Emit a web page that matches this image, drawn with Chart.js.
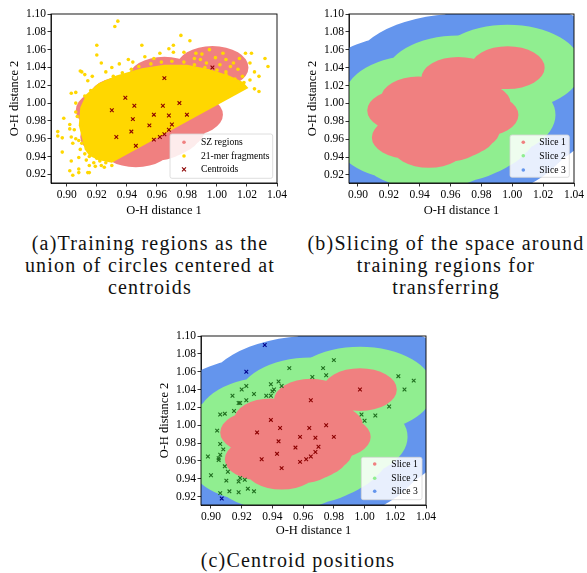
<!DOCTYPE html>
<html><head><meta charset="utf-8">
<script src="https://cdn.jsdelivr.net/npm/chart.js@4.4.1/dist/chart.umd.min.js"></script>
<style>
html,body{margin:0;padding:0;background:#fff}
body{position:relative;width:587px;height:573px;overflow:hidden}
canvas{position:absolute;display:block}
.cap{position:absolute;font-family:'Liberation Serif','Times New Roman',serif;font-size:20px;line-height:22px;letter-spacing:1.2px;color:#111;text-align:center;white-space:nowrap}
</style></head><body>
<canvas id="ca" width="292" height="218" style="left:0;top:0"></canvas>
<canvas id="cb" width="292" height="218" style="left:295px;top:0"></canvas>
<canvas id="cc" width="295" height="218" style="left:145px;top:320px"></canvas>
<div class="cap" style="left:0;width:300px;top:232px">(a)Training regions as the<br>union of circles centered at<br>centroids</div>
<div class="cap" style="left:296px;width:300px;top:232px">(b)Slicing of the space around<br>training regions for<br>transferring</div>
<div class="cap" style="left:148px;width:300px;top:549px">(c)Centroid positions</div>
<script>
const xTicks = [0.90,0.92,0.94,0.96,0.98,1.00,1.02,1.04];
const yTicks = [0.92,0.94,0.96,0.98,1.00,1.02,1.04,1.06,1.08,1.10];
const xTitle = 'O-H distance 1';
const yTitle = 'O-H distance 2';
const legendA = ['SZ regions','21-mer fragments','Centroids'];
const sliceLabels = ['Slice 1','Slice 2','Slice 3'];

// training centroids (slice 1)
const centroids = [
[0.997,1.040],[0.965,1.028],[0.939,1.006],[0.930,0.992],[0.945,0.997],
[0.964,0.997],[0.975,1.000],[0.944,0.982],[0.958,0.987],[0.968,0.986],
[0.980,0.987],[0.955,0.975],[0.970,0.976],[0.943,0.968],[0.968,0.970],
[0.965,0.965],[0.962,0.962],[0.933,0.962],[0.958,0.959],[0.946,0.952]
];
// centroids falling in slice 2 and slice 3
const slice2Centroids = [
[0.951,1.064],[0.980,1.073],[0.973,1.064],[0.975,1.056],[0.966,1.054],
[0.944,1.049],[0.939,1.046],[0.946,1.044],[0.941,1.040],[0.940,1.038],
[0.936,1.033],[0.939,1.033],[0.928,1.035],[0.923,1.044],[0.920,1.040],
[0.914,1.033],[0.923,1.028],[0.919,1.025],[0.918,1.025],[0.915,1.016],
[0.909,1.013],[0.906,1.012],[0.904,0.994],[0.906,0.979],[0.908,0.973],
[0.906,0.967],[0.905,0.963],[0.905,0.961],[0.898,0.965],[0.909,0.954],
[0.911,0.948],[0.900,0.944],[0.910,0.938],[0.919,0.941],[0.918,0.937],
[0.922,0.939],[0.924,0.929],[0.928,0.926],[0.918,0.925],[0.912,0.926],
[0.906,0.924],[1.022,1.055],[1.032,1.050],[1.026,1.040],[1.016,1.021],
[0.998,1.012],[1.007,1.011],[1.000,1.005]
];
const slice3Centroids = [[0.935,1.090],[0.923,1.060],[0.907,0.918]];
// slice radii around the centroids (data units)
const sliceRadii = [0.024,0.048,0.072];

// 21-mer fragments: dense core outline and scattered fragments
const fragmentCore = [
[0.912,0.948],[0.908,0.975],[0.909,0.995],[0.913,1.010],[0.921,1.022],[0.933,1.031],
[0.950,1.039],[0.965,1.043],[0.980,1.043],[0.995,1.038],[1.008,1.031],[1.017,1.024],
[1.021,1.017],[0.930,0.933],[0.921,0.936],[0.915,0.941]
];
const fragmentPoints = [
[0.934,1.092],[0.932,1.086],[0.920,1.065],[0.920,1.054],[0.923,1.045],[0.910,1.035],
[0.912,1.032],[0.917,1.030],[0.914,1.025],[0.906,1.012],[0.903,1.011],[0.898,0.983],
[0.897,0.961],[0.894,0.968],[0.894,0.963],[0.897,0.945],[0.902,0.976],[0.902,0.971],
[0.903,0.962],[0.903,0.935],[0.902,0.924],[0.904,0.919],[0.908,0.926],[0.908,0.922],
[0.914,0.922],[0.915,0.922],[0.919,0.929],[0.923,0.930],[0.922,0.935],[0.918,0.933],
[0.912,0.943],[0.908,0.939],[0.910,0.955],[0.905,0.970],[0.904,0.955],[0.909,1.036],
[0.950,1.065],[0.941,1.049],[0.926,1.035],[0.976,1.076],[0.982,1.070],[0.971,1.065],
[0.971,1.057],[0.978,1.057],[1.006,1.049],[1.019,1.056],[1.023,1.056],[1.032,1.050],
[1.034,1.041],[1.022,1.045],[1.022,1.026],[1.017,1.030],[1.014,1.038],[1.009,1.041],
[1.011,1.045],[1.006,1.035],[1.002,1.043],[0.999,1.051],[0.993,1.045],[0.989,1.049],
[0.986,1.056],[1.018,1.019],[1.014,1.015],[1.009,1.011],
[0.912,0.985],[0.906,0.990],[0.913,1.003],[0.910,0.975],[0.911,0.965],[0.909,0.948],
[0.915,0.940],[0.920,0.938],[0.926,0.933],[0.912,1.008],[0.916,1.014],[0.921,1.019],
[0.926,1.024],[0.931,1.030],[0.937,1.034],[0.943,1.038],[0.948,1.041],[0.956,1.044],
[0.963,1.046],[0.970,1.047],[0.978,1.046],[0.985,1.043],[0.992,1.040],[1.000,1.037],
[1.006,1.032],[1.012,1.027],[1.018,1.023],[1.025,1.016],[1.028,1.013],
[0.958,1.050],[0.962,1.056],[0.968,1.061],[0.952,1.052],[0.944,1.046],[0.930,1.040],
[0.935,1.044],[0.990,1.055],[0.995,1.060],[1.004,1.056],[0.985,1.050],[1.015,1.050],
[1.025,1.035],[1.028,1.030],
[0.906,1.000],[0.907,0.985],[0.906,0.960],[0.908,0.958],[0.915,0.930],[0.925,0.928],
[0.930,0.930],[0.913,0.936]
];

const COL = {salmon:'#F08080', green:'#90EE90', blue:'#6495ED', gold:'#FFD700',
             dred:'#8B0000', dgreen:'#1f6e1f', dblue:'#00008B'};
const SERIF = "'Liberation Serif', 'Times New Roman', serif";
const toXY = a => a.map(([x,y]) => ({x,y}));

const regionPlugin = {
  id:'regions',
  beforeDatasetsDraw(chart, args, o){
    const {ctx, chartArea:a, scales:{x,y}} = chart;
    ctx.save();
    ctx.beginPath(); ctx.rect(a.left, a.top, a.right-a.left, a.bottom-a.top); ctx.clip();
    for (const layer of o.layers){
      ctx.fillStyle = layer.color;
      ctx.beginPath();
      for (const [cx,cy] of o.centers){
        const px = x.getPixelForValue(cx), py = y.getPixelForValue(cy);
        const rx = Math.abs(x.getPixelForValue(cx+layer.r)-px);
        const ry = Math.abs(y.getPixelForValue(cy+layer.r)-py);
        ctx.moveTo(px+rx, py);
        ctx.ellipse(px, py, rx, ry, 0, 0, Math.PI*2);
      }
      ctx.fill('nonzero');
    }
    // filled polygons: datasets flagged as polygon, placed through the scales
    chart.data.datasets.forEach(ds => {
      if (!ds.polygon) return;
      ctx.beginPath();
      ds.data.forEach((p, j) => {
        const px = x.getPixelForValue(p.x), py = y.getPixelForValue(p.y);
        j ? ctx.lineTo(px, py) : ctx.moveTo(px, py);
      });
      ctx.closePath();
      ctx.fillStyle = ds.backgroundColor;
      ctx.fill();
    });
    ctx.restore();
  }
};

const boxLegend = {
  id:'boxLegend',
  afterDatasetsDraw(chart, args, o){
    const {ctx, chartArea:a} = chart;
    ctx.save();
    ctx.strokeStyle = '#000'; ctx.lineWidth = 0.9;
    ctx.strokeRect(a.left, a.top, a.right-a.left, a.bottom-a.top);
    const x0 = a.right - o.right - o.w, y0 = a.bottom - o.bottom - o.h;
    ctx.beginPath();
    ctx.roundRect(x0, y0, o.w, o.h, 2);
    ctx.fillStyle = 'rgba(255,255,255,0.85)'; ctx.fill();
    ctx.strokeStyle = '#d6d6d6'; ctx.lineWidth = 0.8; ctx.stroke();
    ctx.font = "9.6px " + SERIF; ctx.textBaseline = 'middle'; ctx.textAlign = 'left';
    o.items.forEach((it,i) => {
      const yy = y0 + o.rows[i], mx = x0 + o.mx;
      if (it.kind === 'x'){
        ctx.strokeStyle = it.color; ctx.lineWidth = 1.1;
        ctx.beginPath(); ctx.moveTo(mx-2,yy-2); ctx.lineTo(mx+2,yy+2);
        ctx.moveTo(mx-2,yy+2); ctx.lineTo(mx+2,yy-2); ctx.stroke();
      } else {
        ctx.fillStyle = it.color; ctx.beginPath(); ctx.arc(mx, yy, 1.8, 0, Math.PI*2); ctx.fill();
      }
      ctx.fillStyle = '#000'; ctx.fillText(it.label, x0 + o.tx, yy+0.5);
    });
    ctx.restore();
  }
};

function scales(xmin, ymin, yAxisW, xAxisH, yTitlePad){
  const tickFont = {family:SERIF, size:11.5};
  const titleFont = {family:SERIF, size:12.5};
  const grid = {drawOnChartArea:false, drawTicks:true, tickLength:3.5, tickColor:'#000', tickWidth:0.8};
  const border = {display:true, color:'#000', width:0.8};
  return {
    x:{type:'linear', min:xmin, max:1.04,
       afterBuildTicks:s => { s.ticks = xTicks.map(v => ({value:v})); },
       afterFit:s => { s.height = xAxisH; },
       ticks:{callback:v => Number(v).toFixed(2), font:tickFont, color:'#000', padding:2, maxRotation:0, autoSkip:false},
       grid, border,
       title:{display:true, text:xTitle, font:titleFont, color:'#000', padding:{top:0,bottom:0}}},
    y:{type:'linear', min:ymin, max:1.10,
       afterBuildTicks:s => { s.ticks = yTicks.map(v => ({value:v})); },
       afterFit:s => { s.width = yAxisW; },
       ticks:{callback:v => Number(v).toFixed(2), font:tickFont, color:'#000', padding:1.5, autoSkip:false},
       grid, border,
       title:{display:true, text:yTitle, font:titleFont, color:'#000', padding:{top:yTitlePad,bottom:0}}}
  };
}
const baseOpts = {responsive:false, animation:false, events:[], devicePixelRatio:1};
const xMarker = (data, color) => ({data:toXY(data), pointStyle:'crossRot', pointRadius:2.6,
  borderColor:color, backgroundColor:color, borderWidth:1.1, order:1});

// (a)
new Chart(document.getElementById('ca'), {
  type:'scatter',
  data:{datasets:[
    Object.assign(xMarker(centroids, COL.dred), {label:legendA[2]}),
    {label:legendA[1], data:toXY(fragmentPoints), pointRadius:1.8, backgroundColor:COL.gold, borderWidth:0, order:2},
    {label:legendA[1], data:toXY(fragmentCore), polygon:true, showLine:false,
     backgroundColor:COL.gold, borderWidth:0, pointRadius:0, order:3}
  ]},
  options:Object.assign({}, baseOpts, {
    layout:{padding:{top:14, right:15, left:0, bottom:0}},
    scales:scales(0.8895, 0.9103, 51, 35, 7.5),
    plugins:{legend:{display:false}, tooltip:{enabled:false},
      regions:{centers:centroids, layers:[{r:sliceRadii[0], color:COL.salmon}]},
      boxLegend:{w:102.7, h:44.3, right:4.3, bottom:4.7, rows:[8.3,22,35.3], mx:14, tx:31,
        items:[{label:legendA[0], color:COL.salmon},{label:legendA[1], color:COL.gold},{label:legendA[2], color:COL.dred, kind:'x'}]}}
  }),
  plugins:[regionPlugin, boxLegend]
});

const sliceLayers = [{r:sliceRadii[2], color:COL.blue},{r:sliceRadii[1], color:COL.green},{r:sliceRadii[0], color:COL.salmon}];
const sliceItems = [{label:sliceLabels[0], color:COL.salmon},{label:sliceLabels[1], color:COL.green},{label:sliceLabels[2], color:COL.blue}];

// (b)
new Chart(document.getElementById('cb'), {
  type:'scatter',
  data:{datasets:[]},
  options:Object.assign({}, baseOpts, {
    layout:{padding:{top:14, right:13, left:0, bottom:0}},
    scales:scales(0.8942, 0.911, 54, 35, 10.5),
    plugins:{legend:{display:false}, tooltip:{enabled:false},
      regions:{centers:centroids, layers:sliceLayers},
      boxLegend:{w:59.3, h:42.3, right:4.7, bottom:5.7, rows:[7.3,20.7,35], mx:13.3, tx:29.3, items:sliceItems}}
  }),
  plugins:[regionPlugin, boxLegend]
});

// (c)
new Chart(document.getElementById('cc'), {
  type:'scatter',
  data:{datasets:[
    Object.assign(xMarker(centroids, COL.dred), {label:sliceLabels[0]}),
    Object.assign(xMarker(slice2Centroids, COL.dgreen), {label:sliceLabels[1]}),
    Object.assign(xMarker(slice3Centroids, COL.dblue), {label:sliceLabels[2]})
  ]},
  options:Object.assign({}, baseOpts, {
    layout:{padding:{top:16, right:14, left:0, bottom:0}},
    scales:scales(0.8935, 0.9107, 56, 33, 12.5),
    plugins:{legend:{display:false}, tooltip:{enabled:false},
      regions:{centers:centroids, layers:sliceLayers},
      boxLegend:{w:60.7, h:42.4, right:4, bottom:5.3, rows:[6.7,21,34], mx:13.4, tx:30, items:sliceItems}}
  }),
  plugins:[regionPlugin, boxLegend]
});
</script>
</body></html>
